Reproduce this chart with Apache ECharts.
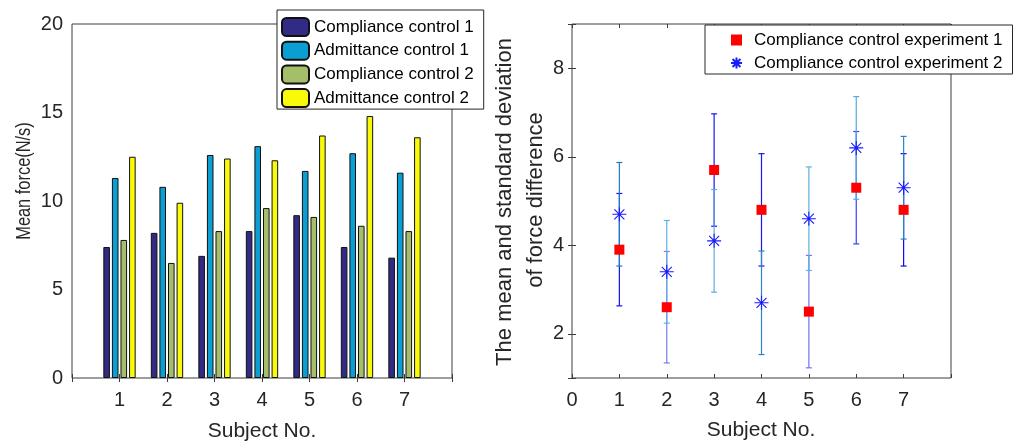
<!DOCTYPE html>
<html>
<head>
<meta charset="utf-8">
<script src="https://cdn.jsdelivr.net/npm/echarts@6/dist/echarts.min.js"></script>
<style>
  html, body { margin: 0; padding: 0; background: #fff; }
  #chart { width: 1019px; height: 443px; }
</style>
</head>
<body>
<div id="chart"></div>
<script>
// subjects on both panels
const subjects = [1, 2, 3, 4, 5, 6, 7];

// left panel: mean force (N/s)
const compliance1 = [7.4, 8.2, 6.9, 8.3, 9.2, 7.4, 6.8];
const admittance1 = [11.3, 10.8, 12.6, 13.1, 11.7, 12.7, 11.6];
const compliance2 = [7.8, 6.5, 8.3, 9.6, 9.1, 8.6, 8.3];
const admittance2 = [12.5, 9.9, 12.4, 12.3, 13.7, 14.8, 13.6];

// right panel: mean and standard deviation of force difference
const exp1Mean = [3.9, 2.6, 5.7, 4.8, 2.5, 5.3, 4.8];
const exp1Std = [1.27, 1.26, 1.27, 1.27, 1.27, 1.27, 1.27];
const exp2Mean = [4.7, 3.4, 4.1, 2.7, 4.6, 6.2, 5.3];
const exp2Std = [1.17, 1.16, 1.16, 1.17, 1.17, 1.16, 1.16];

const frame = "#3c3c3c";
const txt = "#262626";
const font = "Liberation Sans";

// errorbar colours differ per subject in the original
const err1Colors = ["#1212f2", "#7a7af6", "#1818f0", "#1515f5", "#7070f2", "#3c3cf8", "#0808f0"];
const err2Colors = ["#1f7ac4", "#62b0e0", "#5aaee0", "#2b84c8", "#5fb0e0", "#55aadd", "#2a84c8"];

// left x axis runs 0..8, bars sit on 1..7
const xCats = ["0"].concat(subjects.map(String), ["8"]);
const pad = (arr) => ["-"].concat(arr, ["-"]);

const tickStyle = { inside: true, length: 4, lineStyle: { color: frame } };
const labelStyle = { fontSize: 20, fontFamily: font, color: txt };

const barSeries = (name, data, color) => ({
  name: name,
  type: "bar",
  xAxisIndex: 0,
  yAxisIndex: 0,
  barWidth: 6.6,
  barGap: "30%",
  itemStyle: { color: color, borderColor: "#111", borderWidth: 1 },
  data: pad(data),
});

const errorSeries = (name, means, stds, colors) => ({
  name: name,
  type: "custom",
  xAxisIndex: 2,
  yAxisIndex: 2,
  z: 2,
  data: subjects.map((s, i) => [s, means[i] - stds[i], means[i] + stds[i]]),
  encode: { x: 0, y: [1, 2] },
  renderItem: (params, api) => {
    const x = api.value(0);
    const lo = api.coord([x, api.value(1)]);
    const hi = api.coord([x, api.value(2)]);
    const c = colors[params.dataIndex];
    const w = 3;
    const st = { stroke: c, lineWidth: 1.2 };
    return {
      type: "group",
      children: [
        { type: "line", shape: { x1: lo[0], y1: lo[1], x2: hi[0], y2: hi[1] }, style: st },
        { type: "line", shape: { x1: lo[0] - w, y1: lo[1], x2: lo[0] + w, y2: lo[1] }, style: st },
        { type: "line", shape: { x1: hi[0] - w, y1: hi[1], x2: hi[0] + w, y2: hi[1] }, style: st },
      ],
    };
  },
});

const squarePath = "path://M0,0L10,0L10,10L0,10Z";
const starPath = "path://M7,0L7,14M0,7L14,7M2,2L12,12M2,12L12,2";

const option = {
  animation: false,
  grid: [
    { left: 72, top: 24, width: 380, height: 354, show: true, borderColor: frame, borderWidth: 1 },
    { left: 572, top: 24, width: 379, height: 354, show: true, borderColor: frame, borderWidth: 1 },
  ],
  xAxis: [
    {
      gridIndex: 0, type: "category", data: xCats, boundaryGap: false,
      axisLine: { show: false }, axisTick: Object.assign({ interval: 0 }, tickStyle),
      axisLabel: Object.assign({ interval: 0, margin: 12,
        formatter: (v, i) => (i === 0 || i === xCats.length - 1 ? "" : v) }, labelStyle),
      splitLine: { show: false },
    },
    {
      gridIndex: 0, type: "category", data: xCats, boundaryGap: false, position: "top",
      axisLine: { show: false }, axisTick: Object.assign({ interval: 0 }, tickStyle),
      axisLabel: { show: false }, splitLine: { show: false },
    },
    {
      gridIndex: 1, type: "value", min: 0, max: 8, interval: 1,
      axisLine: { show: false }, axisTick: tickStyle,
      axisLabel: Object.assign({ margin: 12, formatter: (v) => (v === 8 ? "" : v) }, labelStyle),
      splitLine: { show: false },
    },
    {
      gridIndex: 1, type: "value", min: 0, max: 8, interval: 1, position: "top",
      axisLine: { show: false }, axisTick: tickStyle,
      axisLabel: { show: false }, splitLine: { show: false },
    },
  ],
  yAxis: [
    {
      gridIndex: 0, type: "value", min: 0, max: 20, interval: 5,
      axisLine: { show: false }, axisTick: tickStyle,
      axisLabel: Object.assign({ margin: 9 }, labelStyle), splitLine: { show: false },
    },
    {
      gridIndex: 0, type: "value", min: 0, max: 20, interval: 5, position: "right",
      axisLine: { show: false }, axisTick: tickStyle,
      axisLabel: { show: false }, splitLine: { show: false },
    },
    {
      gridIndex: 1, type: "value", min: 1, max: 9, splitNumber: 4,
      axisLine: { show: false }, axisTick: tickStyle,
      axisLabel: Object.assign({ margin: 8, formatter: (v) => (v % 2 === 0 ? v : "") }, labelStyle),
      splitLine: { show: false },
    },
    {
      gridIndex: 1, type: "value", min: 1, max: 9, splitNumber: 4, position: "right",
      axisLine: { show: false }, axisTick: tickStyle,
      axisLabel: { show: false }, splitLine: { show: false },
    },
  ],
  legend: [
    {
      data: ["Compliance control 1", "Admittance control 1", "Compliance control 2", "Admittance control 2"],
      orient: "vertical", left: 277, top: 10,
      padding: [7, 10, 1, 4], itemGap: 3.7, itemWidth: 27, itemHeight: 18,
      backgroundColor: "#fff", borderColor: "#262626", borderWidth: 1,
      textStyle: { fontSize: 17, fontFamily: font, color: "#000", lineHeight: 18 },
    },
    {
      data: ["Compliance control experiment 1", "Compliance control experiment 2"],
      orient: "vertical", left: 705, top: 25,
      padding: [6, 10, 2, 25], itemGap: 5, itemWidth: 25, itemHeight: 11,
      symbolKeepAspect: true,
      backgroundColor: "#fff", borderColor: "#262626", borderWidth: 1,
      textStyle: { fontSize: 17, fontFamily: font, color: "#000", lineHeight: 18 },
    },
  ],
  graphic: [
    {
      type: "text", x: 24.5, y: 181, rotation: Math.PI / 2, scaleX: 0.82,
      style: { text: "Mean force(N/s)", fontSize: 20, fontFamily: font, fill: txt,
        textAlign: "center", textVerticalAlign: "middle" },
    },
    {
      type: "text", x: 262, y: 431,
      style: { text: "Subject No.", fontSize: 21, fontFamily: font, fill: txt,
        textAlign: "center", textVerticalAlign: "middle" },
    },
    {
      type: "text", x: 504.5, y: 202, rotation: Math.PI / 2,
      style: { text: "The mean and standard deviation", fontSize: 22, fontFamily: font, fill: txt,
        textAlign: "center", textVerticalAlign: "middle" },
    },
    {
      type: "text", x: 536, y: 200, rotation: Math.PI / 2,
      style: { text: "of force difference", fontSize: 22, fontFamily: font, fill: txt,
        textAlign: "center", textVerticalAlign: "middle" },
    },
    {
      type: "text", x: 761, y: 430,
      style: { text: "Subject No.", fontSize: 21, fontFamily: font, fill: txt,
        textAlign: "center", textVerticalAlign: "middle" },
    },
  ],
  series: [
    barSeries("Compliance control 1", compliance1, "#312B86"),
    barSeries("Admittance control 1", admittance1, "#0B9ED2"),
    barSeries("Compliance control 2", compliance2, "#A4BE6A"),
    barSeries("Admittance control 2", admittance2, "#F9F90A"),
    errorSeries("err1", exp1Mean, exp1Std, err1Colors),
    errorSeries("err2", exp2Mean, exp2Std, err2Colors),
    {
      name: "Compliance control experiment 1",
      type: "scatter", xAxisIndex: 2, yAxisIndex: 2, z: 3,
      symbol: squarePath, symbolSize: 10,
      itemStyle: { color: "#ff0000", opacity: 1 },
      data: subjects.map((s, i) => [s, exp1Mean[i]]),
    },
    {
      name: "Compliance control experiment 2",
      type: "scatter", xAxisIndex: 2, yAxisIndex: 2, z: 4,
      symbol: starPath, symbolSize: 14,
      itemStyle: { color: "#1a1aff", borderColor: "#1a1aff", borderWidth: 1.1, opacity: 1 },
      data: subjects.map((s, i) => [s, exp2Mean[i]]),
    },
  ],
};

const chart = echarts.init(document.getElementById("chart"));
chart.setOption(option);
</script>
</body>
</html>
